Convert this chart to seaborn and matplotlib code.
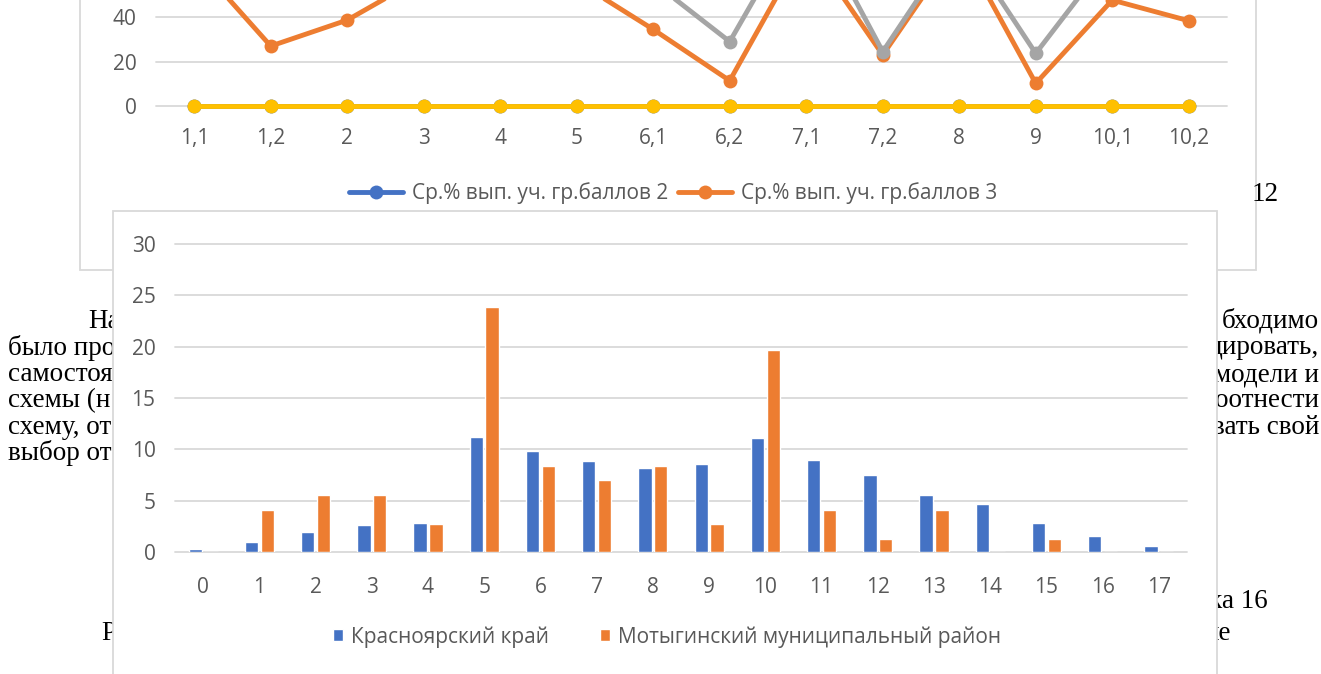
import numpy as np
import pandas as pd
import seaborn as sns
import matplotlib.pyplot as plt
from matplotlib.patches import Rectangle
from matplotlib.lines import Line2D

# upper chart: average % of task completion by grade group (only its lower part is on screen)
tasks = ["1,1", "1,2", "2", "3", "4", "5", "6,1", "6,2", "7,1", "7,2", "8", "9", "10,1", "10,2"]
grade2 = [0, 0, 0, 0, 0, 0, 0, 0, 0, 0, 0, 0, 0, 0]
grade3 = [65.6, 27.0, 38.7, 58.3, 60.0, 56.1, 34.5, 11.4, 73.0, 23.0, 73.0, 10.2, 47.7, 38.4]
grade4 = [75.0, 62.0, 68.0, 72.0, 70.0, 66.0, 55.8, 29.0, 89.0, 24.5, 76.0, 23.7, 68.6, 60.0]
grade5 = [0, 0, 0, 0, 0, 0, 0, 0, 0, 0, 0, 0, 0, 0]
line_names = ["Ср.% вып. уч. гр.баллов 2", "Ср.% вып. уч. гр.баллов 3",
              "Ср.% вып. уч. гр.баллов 4", "Ср.% вып. уч. гр.баллов 5"]

# lower chart: share of participants (%) by primary score
scores = ["0", "1", "2", "3", "4", "5", "6", "7", "8", "9",
          "10", "11", "12", "13", "14", "15", "16", "17"]
krai = [0.3, 1.0, 1.9, 2.6, 2.8, 11.2, 9.8, 8.9, 8.2, 8.6,
        11.1, 9.0, 7.5, 5.6, 4.7, 2.8, 1.6, 0.6]
motygino = [0, 4.1, 5.6, 5.6, 2.7, 23.9, 8.4, 7.0, 8.4, 2.7,
            19.7, 4.1, 1.3, 4.1, 0, 1.3, 0, 0]
bar_names = ["Красноярский край", "Мотыгинский муниципальный район"]

# document text peeking out around the charts
doc_left = ["На", "было про", "самостоя", "схемы (н", "схему, от", "выбор от"]
doc_right = ["бходимо", "дировать,", "модели и", "оотнести", "вать свой"]

W, H = 1321, 674
BLUE, ORANGE, GREY, GOLD = "#4472C4", "#ED7D31", "#A5A5A5", "#FFC000"
GRID = "#D9D9D9"
TICK = "#595959"


def box(l, t, r, b):
    # pixel rectangle -> figure fraction
    return [l / W, 1 - b / H, (r - l) / W, (b - t) / H]


def fxy(x, y):
    return x / W, 1 - y / H


sns.set_theme(style="white")
plt.rcParams["font.family"] = ["Open Sans", "DejaVu Sans"]

fig = plt.figure(figsize=(W / 100, H / 100), dpi=100)

# ---- page text
serif = dict(family="Liberation Serif", size=19.5, color="black", zorder=2,
             va="center", transform=fig.transFigure)
rows = [321, 348, 375, 401, 427, 453]
for i, s in enumerate(doc_left):
    fig.text(*fxy(88 if i == 0 else 8, rows[i]), s, ha="left", **serif)
for i, s in enumerate(doc_right):
    fig.text(*fxy(1319, rows[i]), s, ha="right", **serif)
fig.text(*fxy(1279, 195), "12", ha="right", **serif)
fig.text(*fxy(1268, 602), "ка 16", ha="right", **serif)
fig.text(*fxy(101, 633), "Р", ha="left", **serif)
fig.text(*fxy(1231, 633), "ие", ha="right", **serif)

# ---- upper chart frame and plot
b = box(80, -20, 1256, 270)
fig.add_artist(Rectangle((b[0], b[1]), b[2], b[3], transform=fig.transFigure,
                         facecolor="white", edgecolor=GRID, lw=1.3, zorder=1))

ax_top = fig.add_axes(box(156, -116, 1227, 106), zorder=2)
ax_top.set_facecolor("none")
lines = pd.DataFrame({
    "task": np.tile(np.arange(len(tasks)), 4),
    "pct": grade2 + grade3 + grade4 + grade5,
    "series": np.repeat(line_names, len(tasks)),
})
sns.lineplot(data=lines, x="task", y="pct", hue="series", hue_order=line_names,
             palette=[BLUE, ORANGE, GREY, GOLD], marker="o", markersize=10,
             markeredgewidth=0, linewidth=3.5, legend=False, clip_on=False,
             errorbar=None, ax=ax_top)
ax_top.set_xlim(-0.5, len(tasks) - 0.5)
ax_top.set_ylim(0, 100)
ax_top.set_xticks(np.arange(len(tasks)))
ax_top.set_xticklabels(tasks)
ax_top.set_yticks([0, 20, 40])
ax_top.set_xlabel("")
ax_top.set_ylabel("")
ax_top.grid(axis="y", color=GRID, lw=1.3)
ax_top.set_axisbelow(True)
for sp in ax_top.spines.values():
    sp.set_visible(False)
ax_top.tick_params(axis="both", length=0, labelsize=15, labelcolor=TICK)
ax_top.tick_params(axis="y", pad=14)
ax_top.tick_params(axis="x", pad=16)
for gl in ax_top.get_ygridlines():
    gl.set_clip_on(False)

handles = [Line2D([], [], color=c, lw=3.5, marker="o", ms=10, mew=0)
           for c in (BLUE, ORANGE)]
ax_top.legend(handles, line_names[:2], ncol=2, loc="center",
              bbox_to_anchor=fxy(673, 193), bbox_transform=fig.transFigure,
              frameon=False, fontsize=15, labelcolor=TICK, handlelength=2.6,
              handletextpad=0.45, columnspacing=0.45)

# ---- lower chart frame and bars
b = box(113, 211, 1217, 700)
fig.add_artist(Rectangle((b[0], b[1]), b[2], b[3], transform=fig.transFigure,
                         facecolor="white", edgecolor=GRID, lw=1.3, zorder=5))

ax_bar = fig.add_axes(box(175, 244, 1187, 552), zorder=6)
ax_bar.set_facecolor("none")
bars = pd.DataFrame({
    "score": scores * 2,
    "pct": krai + motygino,
    "series": np.repeat(bar_names, len(scores)),
})
sns.barplot(data=bars, x="score", y="pct", hue="series", hue_order=bar_names,
            palette=[BLUE, ORANGE], width=0.56, gap=0.15, saturation=1,
            ax=ax_bar)
ax_bar.set_ylim(0, 30)
ax_bar.set_yticks([0, 5, 10, 15, 20, 25, 30])
ax_bar.set_xlabel("")
ax_bar.set_ylabel("")
ax_bar.grid(axis="y", color=GRID, lw=1.3)
ax_bar.set_axisbelow(True)
for sp in ax_bar.spines.values():
    sp.set_visible(False)
ax_bar.tick_params(axis="both", length=0, labelsize=15, labelcolor=TICK)
ax_bar.tick_params(axis="y", pad=14)
ax_bar.tick_params(axis="x", pad=18)
for gl in ax_bar.get_ygridlines():
    gl.set_clip_on(False)

sns.move_legend(ax_bar, "center", bbox_to_anchor=fxy(667, 637),
                bbox_transform=fig.transFigure, ncol=2, title=None,
                frameon=False, fontsize=15, labelcolor=TICK,
                handlelength=0.5, handleheight=0.5, handletextpad=0.4,
                columnspacing=2.4)

fig.savefig("out.png", dpi=100)
